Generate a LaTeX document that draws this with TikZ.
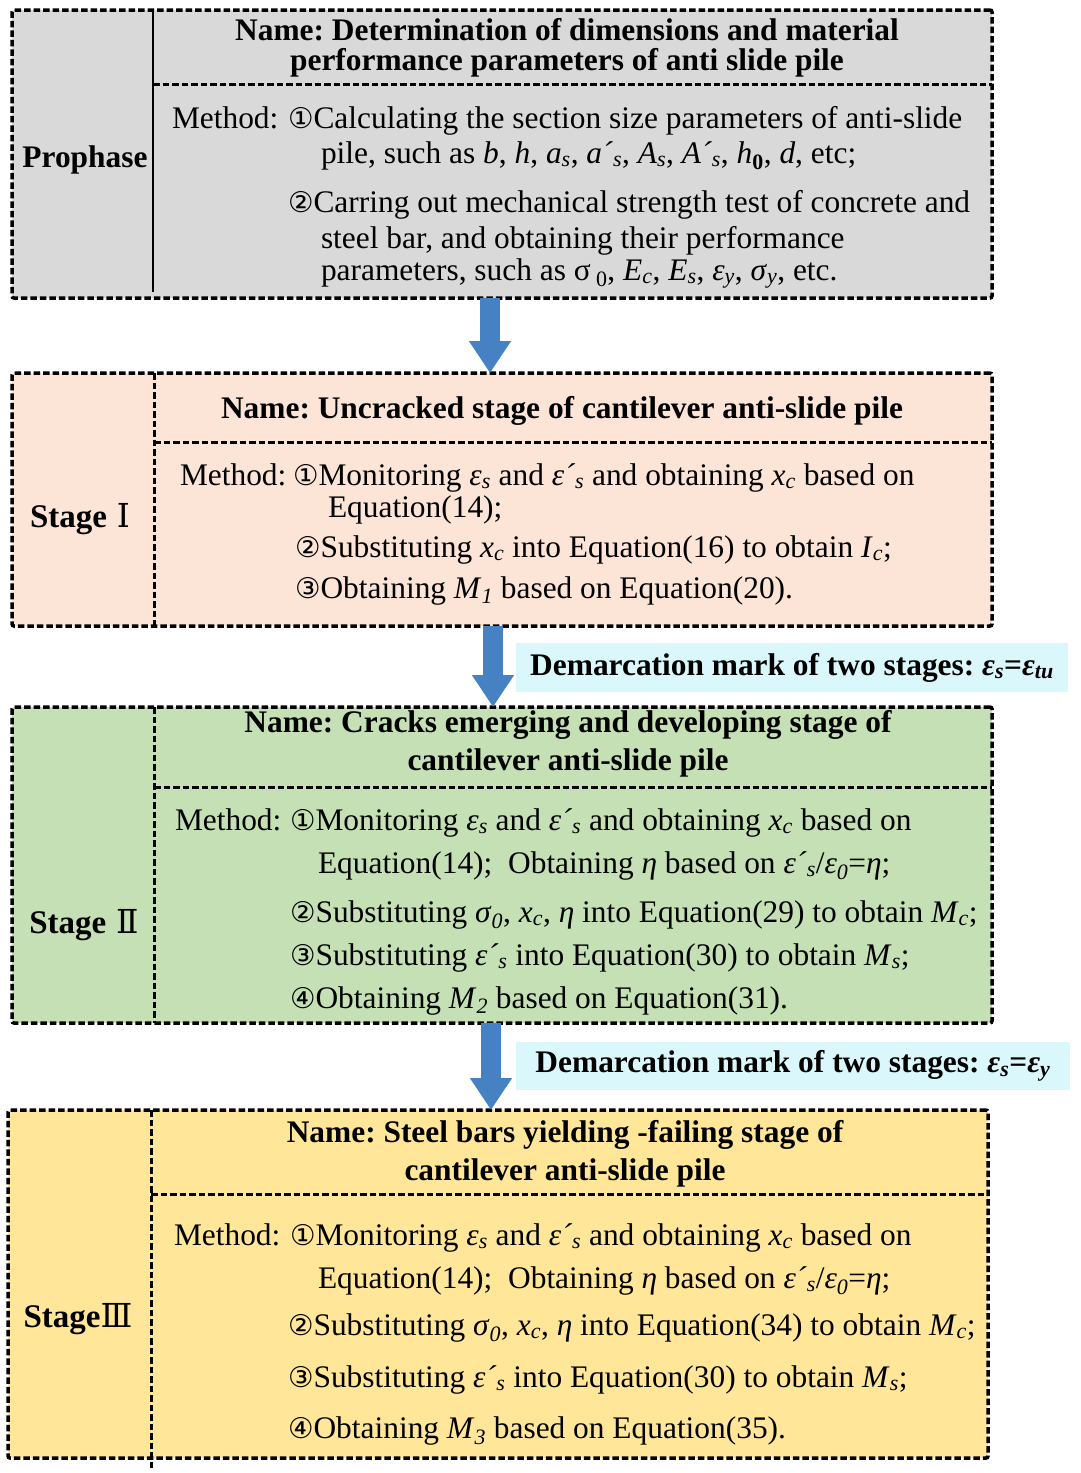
\documentclass[tikz,border=0pt]{standalone}
\usepackage{fontspec}
\setmainfont{Liberation Serif}
\newfontfamily\symf{DejaVu Sans}
\newfontfamily\romf{DejaVu Serif}
\usetikzlibrary{arrows.meta,calc}
\definecolor{grayfill}{RGB}{217,217,217}
\definecolor{peach}{RGB}{252,228,214}
\definecolor{greenfill}{RGB}{197,224,180}
\definecolor{yellowfill}{RGB}{255,230,153}
\definecolor{cyanfill}{RGB}{218,247,252}
\definecolor{arrowblue}{RGB}{70,130,195}
\newcommand{\cn}[1]{{\symf\fontsize{28.5}{30}\selectfont #1}}
\newcommand{\vs}[2]{\textit{#1}\textsubscript{\textit{#2}}}
\newcommand{\bodyfont}{\fontsize{31.4}{36}\selectfont\frenchspacing}
\begin{document}
\begin{tikzpicture}[x=1pt,y=-1pt,
 every node/.style={font=\bodyfont, inner sep=0pt, outer sep=0pt},
 stagebox/.style={draw, line width=3.5pt, dash pattern=on 6.5pt off 3pt, rounded corners=2pt, anchor=north west},
 divider/.style={line width=3pt, dash pattern=on 6.5pt off 3pt},
 soliddiv/.style={line width=2.5pt},
 txt/.style={anchor=base west},
 ttl/.style={anchor=base, font=\bodyfont\bfseries},
 lbl/.style={anchor=base, font=\bodyfont\bfseries},
 stlbl/.style={anchor=base, font=\fontsize{33}{36}\selectfont\bfseries},
 markbox/.style={fill=cyanfill, anchor=north west, font=\bodyfont\bfseries},
 bigarrow/.style={draw=arrowblue, line width=20pt, -{Triangle[width=40pt,length=32pt]}},
]
\useasboundingbox[fill=white] (0,0) rectangle (1080,1473);

% ---------- Prophase ----------
\node[stagebox, fill=grayfill, minimum width=980pt, minimum height=288pt] (p) at (12,10) {};
\draw[soliddiv] (153,12) -- (153,292);
\draw[divider] (153,84) -- (992,84);
\node[lbl] (plbl) at (85,167) {Prophase};
\node[ttl] (pt1) at (567,40) {Name: Determination of dimensions and material};
\node[ttl] (pt2) at (567,70) {performance parameters of anti slide pile};
\node[txt] (pm) at (172,128) {Method:};
\node[txt] (pm1) at (288,128) {\cn{①}Calculating the section size parameters of anti-slide};
\node[txt] (pm2) at (321,163) {pile, such as \textit{b}, \textit{h}, \vs{a}{s}, \vs{a´}{s}, \vs{A}{s}, \vs{A´}{s}, \textit{h}\textsubscript{\textbf{0}}, \textit{d}, etc;};
\node[txt] (pm3) at (288,212) {\cn{②}Carring out mechanical strength test of concrete and};
\node[txt] (pm4) at (321,248) {steel bar, and obtaining their performance};
\node[txt] (pm5) at (321,280) {parameters, such as σ\,\textsubscript{0}, \vs{E}{c}, \vs{E}{s}, \vs{ε}{y}, \vs{σ}{y}, etc.};

% ---------- Stage I ----------
\node[stagebox, fill=peach, minimum width=980pt, minimum height=253pt] (s1) at (12,373) {};
\draw[divider] (154,373) -- (154,626);
\draw[divider] (154,442) -- (992,442);
\node[stlbl] (s1lbl) at (80,527) {Stage\hspace{0.3em}{\mdseries\romf Ⅰ}};
\node[ttl] (s1t) at (562,418) {Name: Uncracked stage of cantilever anti-slide pile};
\node[txt] (s1m) at (180,485) {Method:};
\node[txt] (s1m1) at (293,485) {\cn{①}Monitoring \vs{ε}{s} and \vs{ε´}{s} and obtaining \vs{x}{c} based on};
\node[txt] (s1m2) at (328,517) {Equation(14);};
\node[txt] (s1m3) at (295,557) {\cn{②}Substituting \vs{x}{c} into Equation(16) to obtain \vs{I}{c};};
\node[txt] (s1m4) at (295,598) {\cn{③}Obtaining \vs{M}{1} based on Equation(20).};

% ---------- mark 1 ----------
\node[markbox, minimum width=552pt, minimum height=49pt] (m1) at (516,643) {Demarcation mark of two stages: \vs{ε}{s}=\vs{ε}{tu}};

% ---------- Stage II ----------
\node[stagebox, fill=greenfill, minimum width=980pt, minimum height=316pt] (s2) at (12,707) {};
\draw[divider] (154,707) -- (154,1023);
\draw[divider] (154,787) -- (992,787);
\node[stlbl] (s2lbl) at (84,933) {Stage\hspace{0.3em}{\mdseries\romf Ⅱ}};
\node[ttl] (s2t1) at (568,732) {Name: Cracks emerging and developing stage of};
\node[ttl] (s2t2) at (568,770) {cantilever anti-slide pile};
\node[txt] (s2m) at (175,830) {Method:};
\node[txt] (s2m1) at (290,830) {\cn{①}Monitoring \vs{ε}{s} and \vs{ε´}{s} and obtaining \vs{x}{c} based on};
\node[txt] (s2m2) at (318,873) {Equation(14);\ \ Obtaining \textit{η} based on \vs{ε´}{s}/\vs{ε}{0}=\textit{η};};
\node[txt] (s2m3) at (290,922) {\cn{②}Substituting \vs{σ}{0}, \vs{x}{c}, \textit{η} into Equation(29) to obtain \vs{M}{c};};
\node[txt] (s2m4) at (290,965) {\cn{③}Substituting \vs{ε´}{s} into Equation(30) to obtain \vs{M}{s};};
\node[txt] (s2m5) at (290,1008) {\cn{④}Obtaining \vs{M}{2} based on Equation(31).};

% ---------- mark 2 ----------
\node[markbox, minimum width=554pt, minimum height=48pt] (m2) at (516,1042) {Demarcation mark of two stages: \vs{ε}{s}=\vs{ε}{y}};

% ---------- Stage III ----------
\node[stagebox, fill=yellowfill, minimum width=980pt, minimum height=348pt] (s3) at (8,1110) {};
\draw[divider] (151,1110) -- (151,1468);
\draw[divider] (151,1194) -- (988,1194);
\node[stlbl] (s3lbl) at (78,1327) {Stage{\mdseries\romf Ⅲ}};
\node[ttl] (s3t1) at (565,1142) {Name: Steel bars yielding -failing stage of};
\node[ttl] (s3t2) at (565,1180) {cantilever anti-slide pile};
\node[txt] (s3m) at (174,1245) {Method:};
\node[txt] (s3m1) at (290,1245) {\cn{①}Monitoring \vs{ε}{s} and \vs{ε´}{s} and obtaining \vs{x}{c} based on};
\node[txt] (s3m2) at (318,1288) {Equation(14);\ \ Obtaining \textit{η} based on \vs{ε´}{s}/\vs{ε}{0}=\textit{η};};
\node[txt] (s3m3) at (288,1335) {\cn{②}Substituting \vs{σ}{0}, \vs{x}{c}, \textit{η} into Equation(34) to obtain \vs{M}{c};};
\node[txt] (s3m4) at (288,1387) {\cn{③}Substituting \vs{ε´}{s} into Equation(30) to obtain \vs{M}{s};};
\node[txt] (s3m5) at (288,1438) {\cn{④}Obtaining \vs{M}{3} based on Equation(35).};

% ---------- arrows ----------
\coordinate (ax1) at (490,0);
\coordinate (ax2) at (493,0);
\coordinate (ax3) at (491,0);
\draw[bigarrow] (p.south -| ax1) -- (s1.north -| ax1);
\draw[bigarrow] (s1.south -| ax2) -- (s2.north -| ax2);
\draw[bigarrow] (s2.south -| ax3) -- (s3.north -| ax3);
\end{tikzpicture}
\end{document}
